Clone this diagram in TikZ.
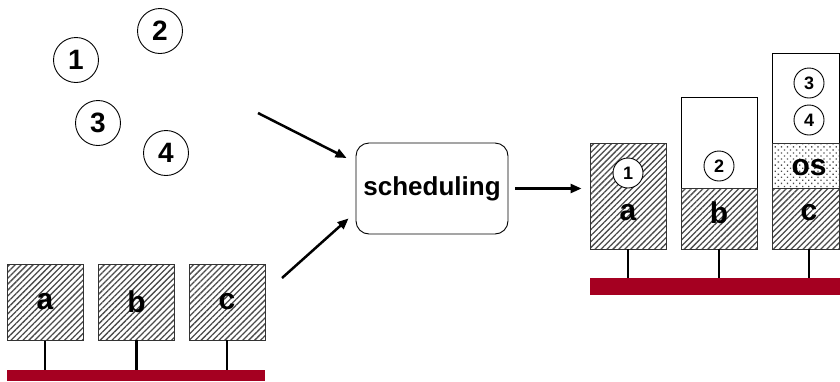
\documentclass[tikz,border=0pt]{standalone}
\usepackage{fontspec}
\setmainfont{Liberation Sans}
\usetikzlibrary{patterns.meta,arrows.meta,calc}
\definecolor{barred}{RGB}{165,0,33}
\definecolor{hatchgray}{RGB}{75,75,75}
\tikzset{
  hatchbox/.style={draw=black!80, line width=0.9pt, pattern={Lines[angle=45,distance=4.2pt,line width=1.3pt]}, pattern color=hatchgray, inner sep=0pt},
  dotbox/.style={draw=black!80, line width=0.9pt, pattern={Dots[radius=0.9pt,distance=4.3pt,angle=45]}, pattern color=hatchgray, inner sep=0pt},
  whitebox/.style={draw=black, line width=0.9pt, fill=white, inner sep=0pt},
  biglabel/.style={font=\bfseries\fontsize{30}{30}\selectfont, inner sep=0pt},
  bigjob/.style={circle, draw=black, line width=0.9pt, minimum size=45pt, inner sep=0pt, font=\bfseries\fontsize{28}{28}\selectfont},
  smalljob/.style={circle, draw=black, line width=0.9pt, fill=white, minimum size=30pt, inner sep=0pt, font=\bfseries\fontsize{18}{18}\selectfont},
  bus/.style={fill=barred, draw=none, inner sep=0pt},
  stem/.style={line width=2.5pt, black},
  arr/.style={line width=2.5pt, -{Triangle[length=11pt,width=9pt]}},
  schedbox/.style={draw=black, line width=0.9pt, rounded corners=13pt, minimum width=152pt, minimum height=91pt, font=\bfseries\fontsize{26}{26}\selectfont}
}
\begin{document}
\begin{tikzpicture}[x=1pt,y=-1pt]
\useasboundingbox (0,0) rectangle (840,381);
% free jobs
\node[bigjob] (j1) at (76,60) {1};
\node[bigjob] (j2) at (160,31) {2};
\node[bigjob] (j3) at (98,123) {3};
\node[bigjob] (j4) at (166,153) {4};
% left machines
\node[hatchbox, minimum width=76pt, minimum height=76pt] (la) at (45,302) {};
\node[hatchbox, minimum width=76pt, minimum height=76pt] (lb) at (136.5,302) {};
\node[hatchbox, minimum width=76pt, minimum height=76pt] (lc) at (227,302) {};
\node[biglabel] at (la) {a};
\node[biglabel] at (lb) {b};
\node[biglabel] at (lc) {c};
\node[bus, minimum width=258pt, minimum height=11pt] (lbus) at (136,375.5) {};
\draw[stem] (la.south) -- (la.south |- lbus.north);
\draw[stem] (lb.south) -- (lb.south |- lbus.north);
\draw[stem] (lc.south) -- (lc.south |- lbus.north);
% scheduling
\node[schedbox] (sched) at (432,188.5) {\raisebox{3pt}{scheduling}};
\coordinate (in1) at (258,113);
\coordinate (in2) at (282,278);
\draw[arr] (in1) -- ([xshift=-9pt,yshift=30.5pt]sched.west);
\draw[arr] (in2) -- ([xshift=-7pt,yshift=16pt]sched.south west);
% right machines
\node[hatchbox, minimum width=76pt, minimum height=106pt] (ra) at (628,196) {};
\node[whitebox, minimum width=76pt, minimum height=91pt] (rbw) at (719,142.5) {};
\node[hatchbox, minimum width=76pt, minimum height=61pt] (rb) at (719,218.5) {};
\node[whitebox, minimum width=67pt, minimum height=90pt] (rcw) at (805.5,98) {};
\node[dotbox, minimum width=67pt, minimum height=45pt] (rcos) at (805.5,165.5) {};
\node[hatchbox, minimum width=67pt, minimum height=61pt] (rc) at (805.5,218.5) {};
\draw[arr] ([xshift=7pt]sched.east) -- ($(ra.west |- sched.east)+(-8,0)$);
\node[smalljob] (s1) at (628,173) {1};
\node[smalljob] (s2) at (719,166) {2};
\node[smalljob] (s3) at (809,83) {3};
\node[smalljob] (s4) at (809,120) {4};
\node[biglabel] at (628,213) {a};
\node[biglabel] at (719,213) {b};
\node[biglabel] at (809,213) {c};
\node[biglabel] at (809,168) {os};
\node[bus, minimum width=250pt, minimum height=17pt] (rbus) at (715,286.5) {};
\draw[stem] (ra.south) -- (ra.south |- rbus.north);
\draw[stem] (rb.south) -- (rb.south |- rbus.north);
\draw[stem] (809,249) -- (809,278);
\end{tikzpicture}
\end{document}
